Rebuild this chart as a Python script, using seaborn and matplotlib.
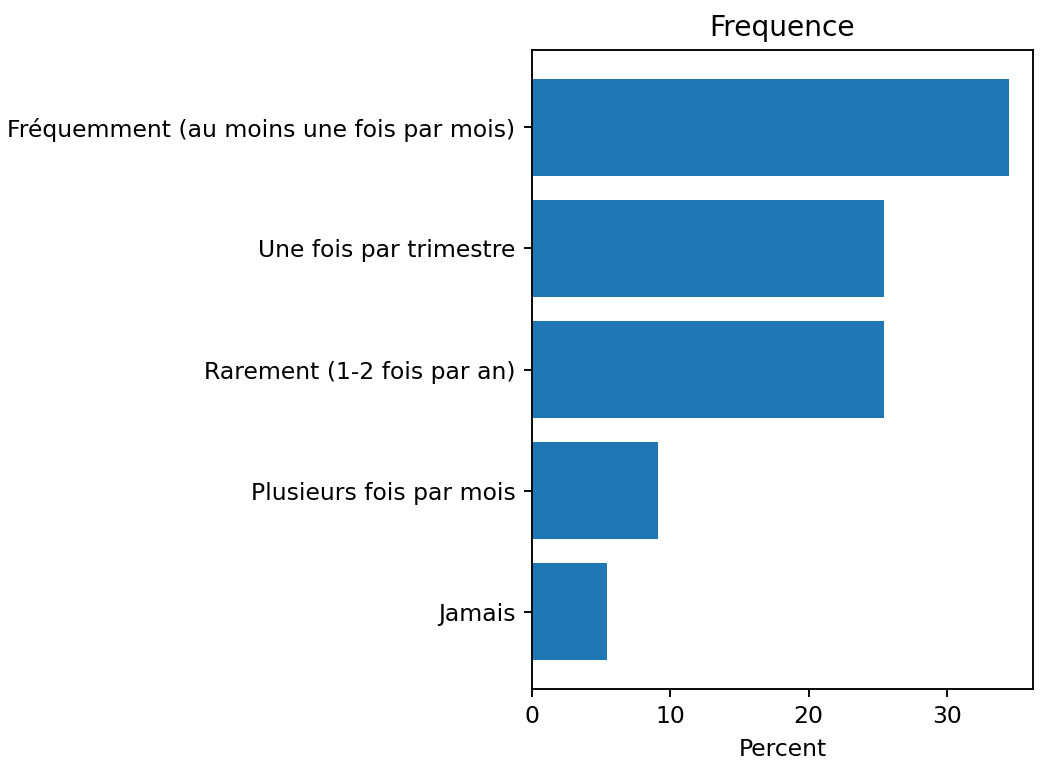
import matplotlib
matplotlib.use("Agg")
import matplotlib.pyplot as plt
import seaborn as sns

categories = [
    "Fréquemment (au moins une fois par mois)",
    "Une fois par trimestre",
    "Rarement (1-2 fois par an)",
    "Plusieurs fois par mois",
    "Jamais",
]
percent = [34.5, 25.45, 25.45, 9.09, 5.45]

DPI = 169
fig = plt.figure(figsize=(1041 / DPI, 764 / DPI), dpi=DPI)
ax = fig.add_axes([532 / 1041, 75 / 764, 501 / 1041, 639 / 764])

sns.barplot(x=percent, y=categories, orient="h", color="#1f77b4",
            saturation=1, width=0.8, ax=ax)

ax.set_xlim(0, max(percent) * 1.05)
ax.set_ylim(len(categories) - 1 + 0.64, -0.64)
ax.set_xticks([0, 10, 20, 30])
ax.set_xlabel("Percent")
ax.set_ylabel("")
ax.set_title("Frequence")

plt.savefig("out.png", dpi=DPI)
